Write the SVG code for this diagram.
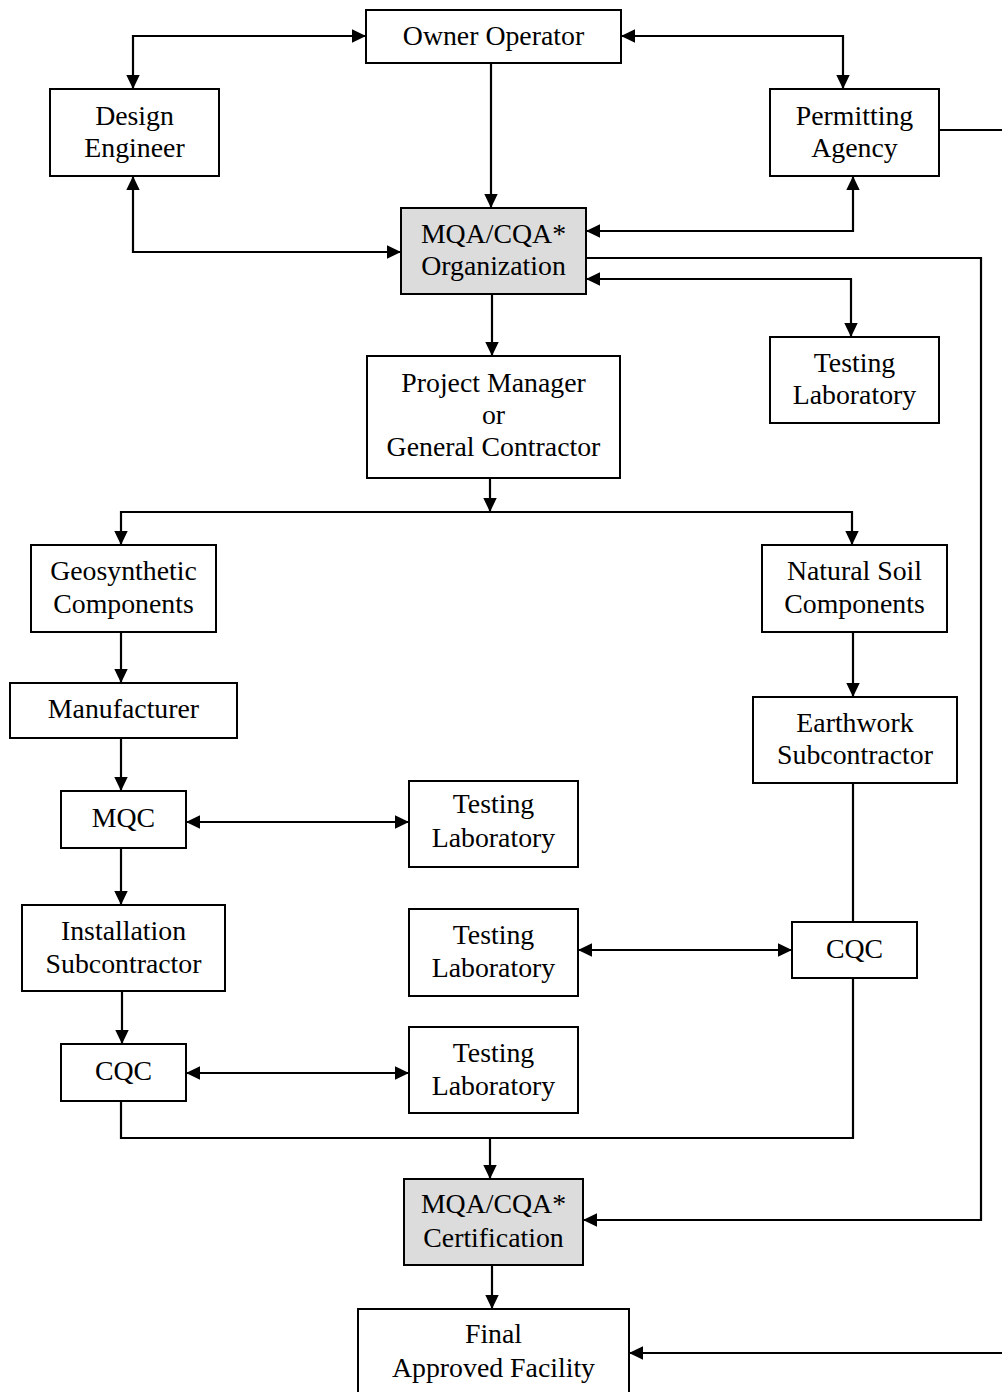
<svg xmlns="http://www.w3.org/2000/svg" width="1002" height="1392" viewBox="0 0 1002 1392">
<style>
.box{fill:#ffffff;stroke:#000;stroke-width:2}
.gray{fill:#dcdcdc;stroke:#000;stroke-width:2}
.t{font-family:"Liberation Serif","Times New Roman",serif;font-size:27.8px;fill:#000;text-anchor:middle}
.c{fill:none;stroke:#000;stroke-width:2.2}
.a{marker-end:url(#ah)}
.b{marker-start:url(#ah);marker-end:url(#ah)}
</style>
<defs>
<marker id="ah" markerUnits="userSpaceOnUse" markerWidth="15" markerHeight="15" viewBox="0 0 15 15" refX="14" refY="7.5" orient="auto-start-reverse">
<path d="M0,0.8 L14,7.5 L0,14.2 Z" fill="#000"/>
</marker>
</defs>
<rect width="1002" height="1392" fill="#ffffff"/>
<g id="connectors">
<path class="c b" d="M366,36 H133 V89"/>
<path class="c b" d="M621,36 H843 V89"/>
<path class="c a" d="M491,63 V208"/>
<path class="c b" d="M133,176 V252 H401"/>
<path class="c b" d="M853,176 V231 H586"/>
<path class="c b" d="M586,279 H851 V337"/>
<path class="c a" d="M586,258 H981 V1220 H583"/>
<path class="c a" d="M939,130 H1006 V1353 H629"/>
<path class="c a" d="M492,294 V356"/>
<path class="c a" d="M490,478 V512"/>
<path class="c b" d="M121,545 V512 H852 V545"/>
<path class="c a" d="M121,632 V683"/>
<path class="c a" d="M853,632 V697"/>
<path class="c a" d="M121,738 V791"/>
<path class="c b" d="M186,822 H409"/>
<path class="c a" d="M121,848 V905"/>
<path class="c a" d="M122,991 V1044"/>
<path class="c b" d="M186,1073 H409"/>
<path class="c b" d="M578,950 H792"/>
<path class="c" d="M853,783 V922"/>
<path class="c" d="M121,1101 V1138 H853 V978"/>
<path class="c a" d="M490,1138 V1179"/>
<path class="c a" d="M492,1265 V1309"/>
</g>
<g id="owner"><rect class="box" x="366" y="10" width="255" height="53"/><text class="t" x="493.5" y="45">Owner Operator</text></g>
<g id="design"><rect class="box" x="50" y="89" width="169" height="87"/><text class="t" x="134.5" y="125">Design</text><text class="t" x="134.5" y="157">Engineer</text></g>
<g id="permitting"><rect class="box" x="770" y="89" width="169" height="87"/><text class="t" x="854.5" y="125">Permitting</text><text class="t" x="854.5" y="157">Agency</text></g>
<g id="mqa-org"><rect class="gray" x="401" y="208" width="185" height="86"/><text class="t" x="493.5" y="243">MQA/CQA*</text><text class="t" x="493.5" y="275">Organization</text></g>
<g id="testlab-top"><rect class="box" x="770" y="337" width="169" height="86"/><text class="t" x="854.5" y="372">Testing</text><text class="t" x="854.5" y="404">Laboratory</text></g>
<g id="pm"><rect class="box" x="367" y="356" width="253" height="122"/><text class="t" x="493.5" y="392">Project Manager</text><text class="t" x="493.5" y="424">or</text><text class="t" x="493.5" y="456">General Contractor</text></g>
<g id="geosynthetic"><rect class="box" x="31" y="545" width="185" height="87"/><text class="t" x="123.5" y="580">Geosynthetic</text><text class="t" x="123.5" y="613">Components</text></g>
<g id="natural-soil"><rect class="box" x="762" y="545" width="185" height="87"/><text class="t" x="854.5" y="580">Natural Soil</text><text class="t" x="854.5" y="613">Components</text></g>
<g id="manufacturer"><rect class="box" x="10" y="683" width="227" height="55"/><text class="t" x="123.5" y="718">Manufacturer</text></g>
<g id="earthwork"><rect class="box" x="753" y="697" width="204" height="86"/><text class="t" x="855" y="732">Earthwork</text><text class="t" x="855" y="764">Subcontractor</text></g>
<g id="mqc"><rect class="box" x="61" y="791" width="125" height="57"/><text class="t" x="123.5" y="827">MQC</text></g>
<g id="testlab-1"><rect class="box" x="409" y="781" width="169" height="86"/><text class="t" x="493.5" y="813">Testing</text><text class="t" x="493.5" y="847">Laboratory</text></g>
<g id="installation"><rect class="box" x="22" y="905" width="203" height="86"/><text class="t" x="123.5" y="940">Installation</text><text class="t" x="123.5" y="973">Subcontractor</text></g>
<g id="testlab-2"><rect class="box" x="409" y="909" width="169" height="87"/><text class="t" x="493.5" y="944">Testing</text><text class="t" x="493.5" y="977">Laboratory</text></g>
<g id="cqc-right"><rect class="box" x="792" y="922" width="125" height="56"/><text class="t" x="854.5" y="958">CQC</text></g>
<g id="cqc-left"><rect class="box" x="61" y="1044" width="125" height="57"/><text class="t" x="123.5" y="1080">CQC</text></g>
<g id="testlab-3"><rect class="box" x="409" y="1027" width="169" height="86"/><text class="t" x="493.5" y="1062">Testing</text><text class="t" x="493.5" y="1095">Laboratory</text></g>
<g id="certification"><rect class="gray" x="404" y="1179" width="179" height="86"/><text class="t" x="493.5" y="1213">MQA/CQA*</text><text class="t" x="493.5" y="1247">Certification</text></g>
<g id="final"><rect class="box" x="358" y="1309" width="271" height="90"/><text class="t" x="493.5" y="1343">Final</text><text class="t" x="493.5" y="1377">Approved Facility</text></g>
</svg>
